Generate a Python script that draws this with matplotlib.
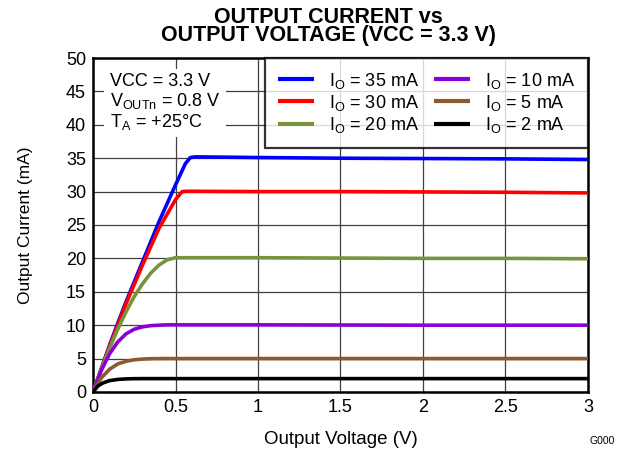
import matplotlib
matplotlib.use("Agg")
import matplotlib.pyplot as plt

plt.rcParams['font.family'] = ['Liberation Sans', 'DejaVu Sans']
plt.rcParams['mathtext.fontset'] = 'custom'
plt.rcParams['mathtext.rm'] = 'Liberation Sans'
plt.rcParams['mathtext.it'] = 'Liberation Sans'

labels = ["I$_\\mathrm{O}$ = 35 mA", "I$_\\mathrm{O}$ = 30 mA", "I$_\\mathrm{O}$ = 20 mA",
          "I$_\\mathrm{O}$ = 10 mA", "I$_\\mathrm{O}$ = 5 mA", "I$_\\mathrm{O}$ = 2 mA"]
colors = ["#0000FF", "#FF0000", "#77933C", "#8B00D6", "#8C5A2E", "#000000"]

x35 = [0, 0.05, 0.1, 0.15, 0.2, 0.3, 0.4, 0.5, 0.56, 0.59, 0.62, 1, 1.5, 2, 2.5, 3]
y35 = [0, 3.5, 7, 10.3, 13.5, 19.5, 25.5, 31, 34.2, 35.1, 35.2, 35.1, 35.0, 34.95, 34.9, 34.8]
x30 = [0, 0.05, 0.1, 0.15, 0.2, 0.3, 0.4, 0.5, 0.54, 0.57, 1, 1.5, 2, 2.5, 3]
y30 = [0, 3.4, 6.8, 10, 13.2, 19, 24.5, 28.8, 30.0, 30.05, 30.0, 30.0, 29.95, 29.9, 29.8]
x20 = [0, 0.05, 0.1, 0.15, 0.2, 0.25, 0.3, 0.35, 0.4, 0.45, 0.5, 1, 1.5, 2, 2.5, 3]
y20 = [0, 3.4, 6.5, 9.4, 12, 14.3, 16.2, 17.8, 19.0, 19.8, 20.1, 20.1, 20.05, 20.0, 20.0, 19.95]
x10 = [0, 0.05, 0.1, 0.15, 0.2, 0.25, 0.3, 0.35, 0.4, 0.45, 1, 2, 3]
y10 = [0, 3.2, 5.7, 7.5, 8.7, 9.4, 9.75, 9.93, 10.0, 10.05, 10.05, 10.0, 10.0]
x5 = [0, 0.05, 0.1, 0.15, 0.2, 0.25, 0.3, 0.35, 0.4, 1, 2, 3]
y5 = [0, 2.1, 3.4, 4.2, 4.6, 4.82, 4.93, 4.98, 5.0, 5.0, 5.0, 5.0]
x2 = [0, 0.03, 0.06, 0.1, 0.15, 0.2, 0.25, 0.3, 1, 2, 3]
y2 = [0, 0.9, 1.35, 1.7, 1.88, 1.96, 1.99, 2.0, 2.0, 2.0, 2.0]

series = [(x35, y35), (x30, y30), (x20, y20), (x10, y10), (x5, y5), (x2, y2)]

xticks = [0, 0.5, 1, 1.5, 2, 2.5, 3]
xticklabels = ["0", "0.5", "1", "1.5", "2", "2.5", "3"]
yticks = [0, 5, 10, 15, 20, 25, 30, 35, 40, 45, 50]

fig = plt.figure(figsize=(6.21, 4.55), dpi=100)
ax = fig.add_axes([0.1498, 0.1385, 0.797, 0.734])

for (xs, ys), c, lab in zip(series, colors, labels):
    ax.plot(xs, ys, color=c, lw=2.6, label=lab, solid_capstyle='butt', zorder=3)

ax.set_xlim(0, 3)
ax.set_ylim(0, 50)
ax.set_xticks(xticks)
ax.set_xticklabels(xticklabels)
ax.set_yticks(yticks)
ax.grid(True, color="#404040", lw=0.9)
ax.set_axisbelow(True)
ax.tick_params(length=0, labelsize=13, pad=5)
for s in ax.spines.values():
    s.set_linewidth(1.8)
    s.set_color('black')

ax.set_xlabel("Output Voltage (V)", fontsize=13.5, labelpad=11)
ax.set_ylabel("Output Current (mA)", fontsize=12.5, labelpad=24)
ax.set_title("OUTPUT CURRENT vs\nOUTPUT VOLTAGE (VCC = 3.3 V)", fontsize=15.5,
             fontweight='bold', linespacing=0.85, pad=12, x=0.475)

leg = ax.legend(loc='upper right', ncol=2, fontsize=13, frameon=True, fancybox=False,
                edgecolor='black', borderaxespad=0, handlelength=2.0,
                columnspacing=0.8, labelspacing=0.12, borderpad=0.7, handletextpad=0.85)
leg.get_frame().set_linewidth(1.6)
leg.set_zorder(5)
for h in leg.get_lines():
    h.set_linewidth(3)

ax.text(0.034, 0.955, "VCC = 3.3 V\nV$_\\mathrm{OUTn}$ = 0.8 V\nT$_\\mathrm{A}$ = +25\u00b0C",
        transform=ax.transAxes, fontsize=13, va='top', ha='left', linespacing=1.05,
        bbox=dict(boxstyle='square,pad=0.3', facecolor='white', edgecolor='none'), zorder=4)

fig.text(0.99, 0.02, "G000", fontsize=7.5, ha='right', va='bottom')

fig.savefig("out.png", dpi=100)
